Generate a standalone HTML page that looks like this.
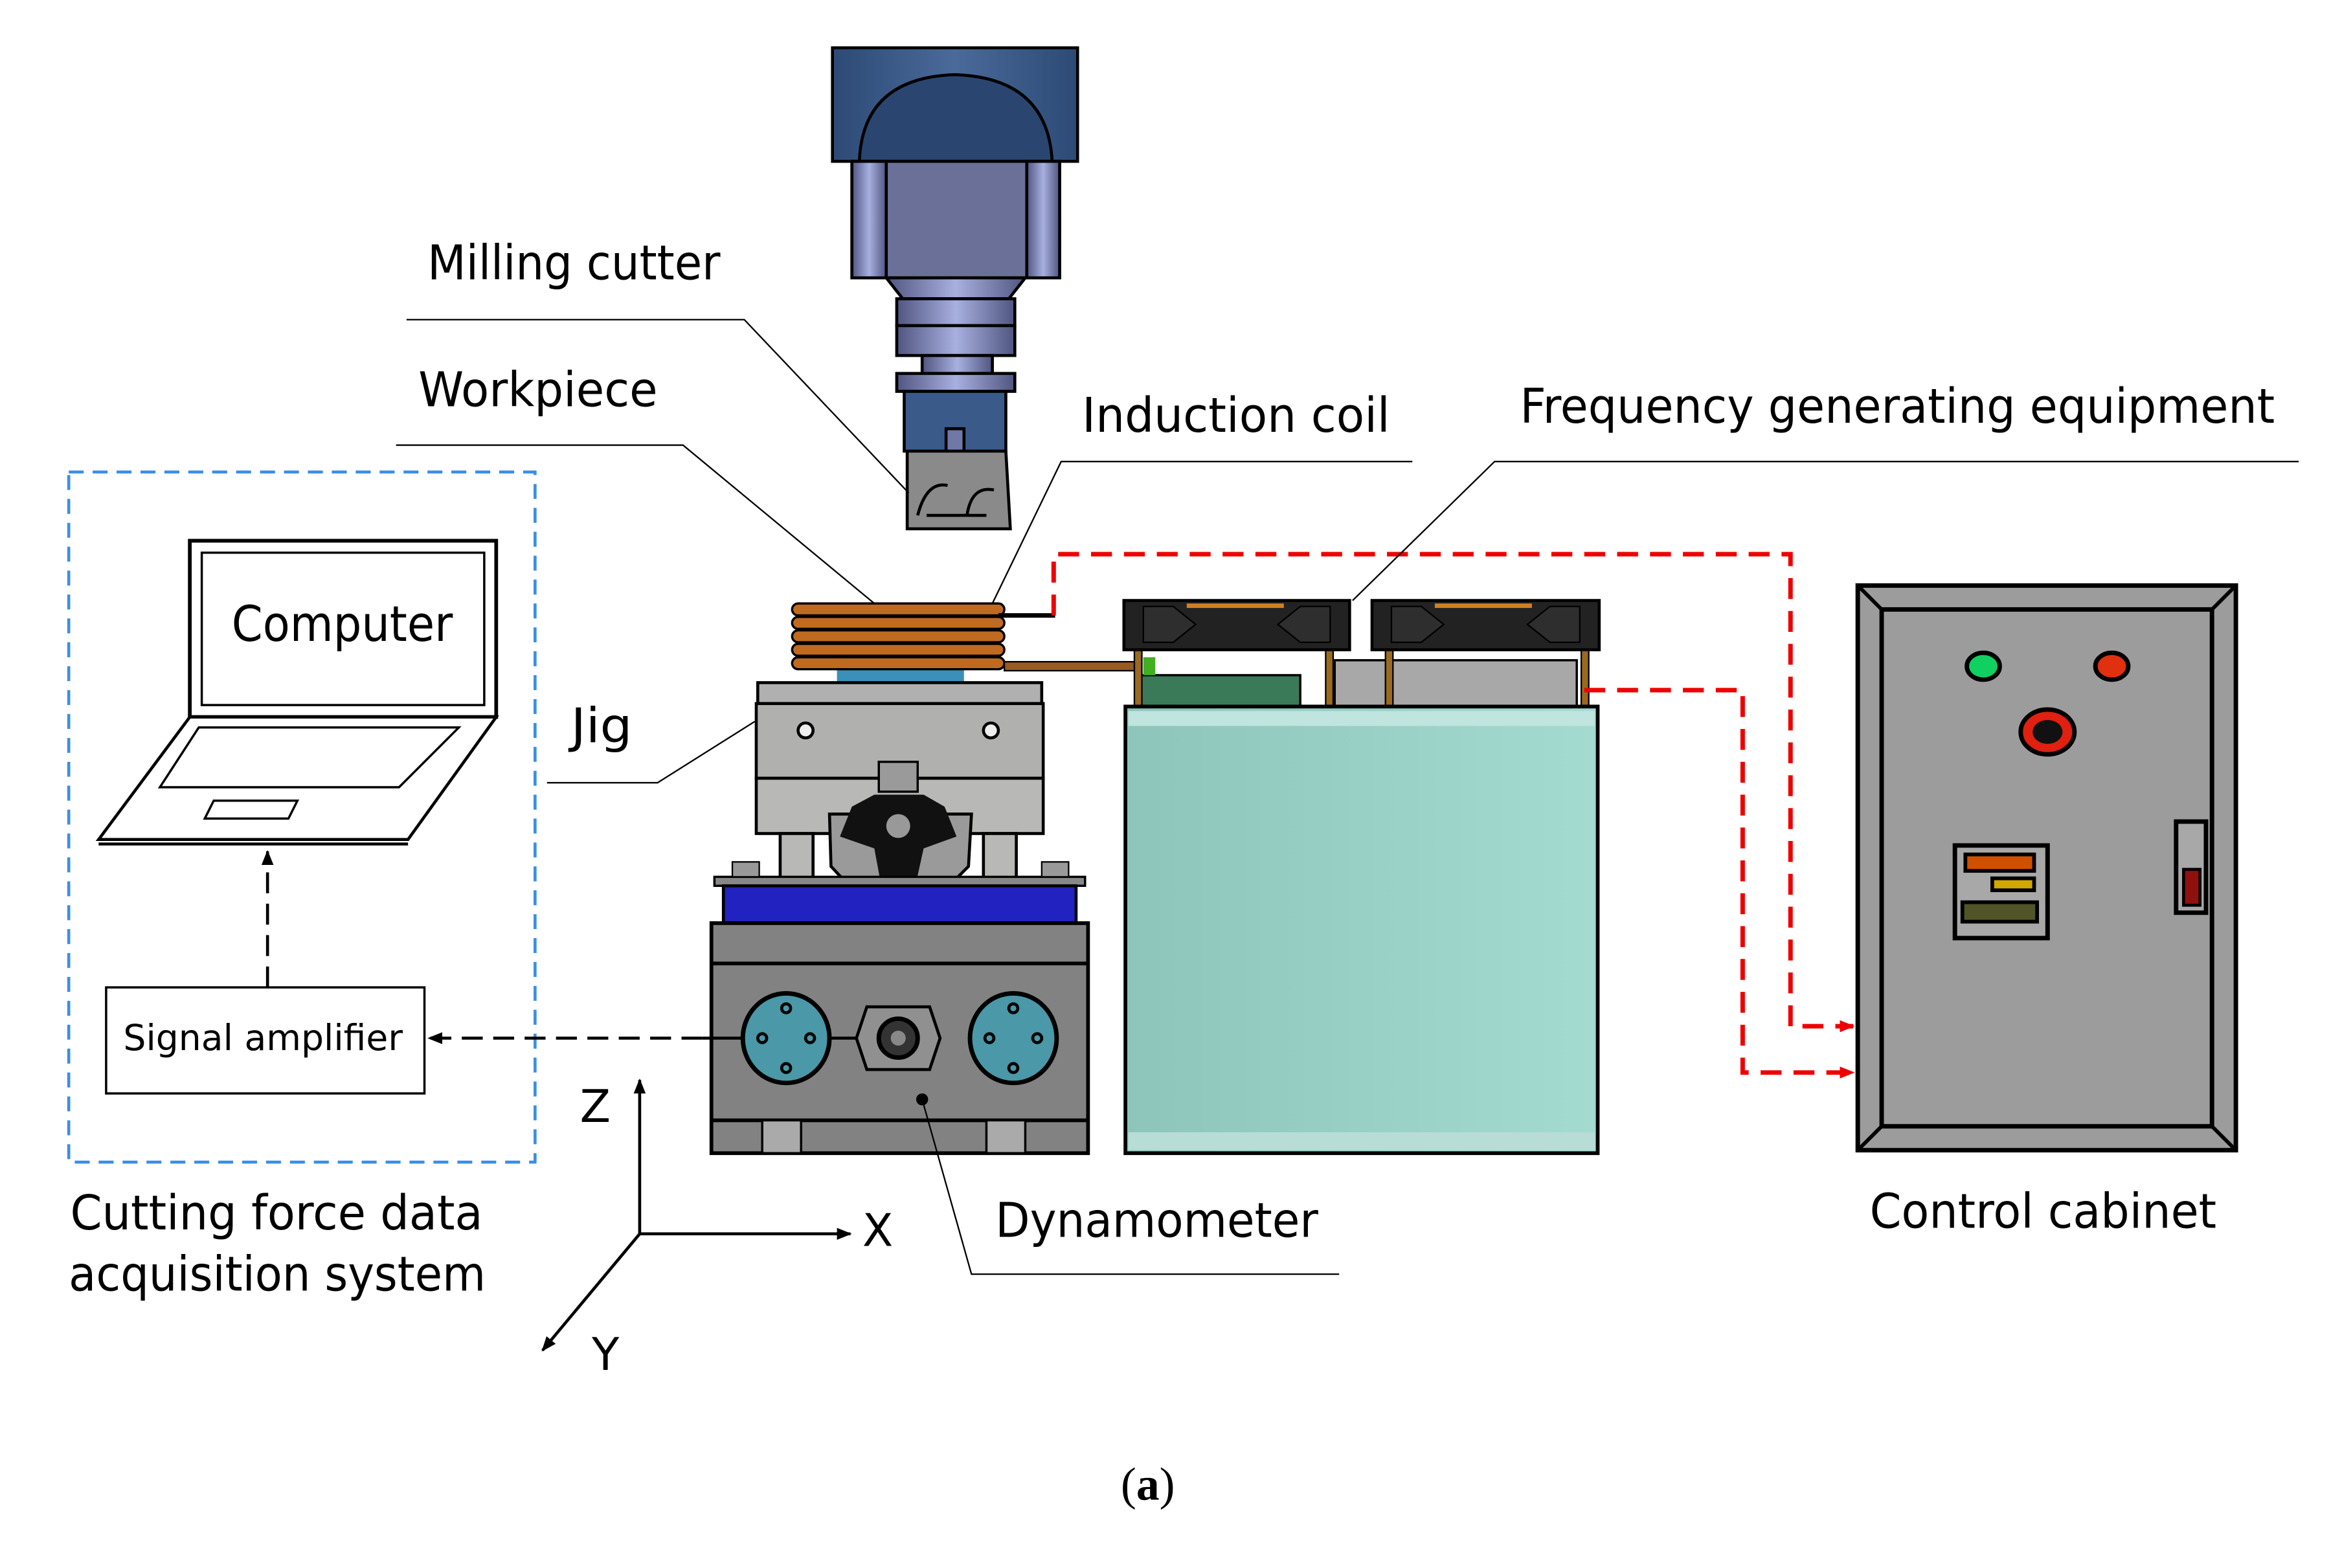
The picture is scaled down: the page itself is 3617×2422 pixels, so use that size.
<!DOCTYPE html>
<html><head><meta charset="utf-8">
<style>html,body{margin:0;padding:0;background:#fff;}svg{display:block;}</style>
</head><body>
<svg width="3617" height="2422" viewBox="0 0 1567 1049.7" preserveAspectRatio="none" xmlns="http://www.w3.org/2000/svg" font-family="'DejaVu Sans','Liberation Sans',sans-serif">
<defs>
<linearGradient id="sp" x1="0" x2="1"><stop offset="0" stop-color="#2d4a75"/><stop offset="0.5" stop-color="#4a6a9a"/><stop offset="1" stop-color="#2d4a75"/></linearGradient>
<linearGradient id="rg" x1="0" x2="1"><stop offset="0" stop-color="#505580"/><stop offset="0.5" stop-color="#a8b0e0"/><stop offset="1" stop-color="#505580"/></linearGradient>
<linearGradient id="tl" x1="0" x2="1"><stop offset="0" stop-color="#8dc5bb"/><stop offset="1" stop-color="#a4dbd1"/></linearGradient>
<marker id="ab" markerWidth="10" markerHeight="8" refX="9" refY="4" orient="auto" markerUnits="userSpaceOnUse"><path d="M0,0 L10,4 L0,8 Z" fill="#000"/></marker>
<marker id="ar" markerWidth="10" markerHeight="8" refX="9" refY="4" orient="auto" markerUnits="userSpaceOnUse"><path d="M0,0 L10,4 L0,8 Z" fill="#e00"/></marker>
</defs>

<rect x="557" y="32" width="164" height="76" fill="url(#sp)" stroke="#000" stroke-width="2"/>
<path d="M575,108 Q577,52 639,50 Q701,52 704,108 Z" fill="#2a4670" stroke="#000" stroke-width="2"/>
<rect x="570" y="108" width="139" height="78" fill="#6b7098" stroke="#000" stroke-width="2"/>
<rect x="570" y="108" width="23" height="78" fill="url(#rg)" stroke="#000" stroke-width="2"/>
<rect x="687" y="108" width="22" height="78" fill="url(#rg)" stroke="#000" stroke-width="2"/>
<path d="M593,186 L686,186 L675,200 L604,200 Z" fill="url(#rg)" stroke="#000" stroke-width="2"/>
<rect x="600" y="200" width="79" height="18" fill="url(#rg)" stroke="#000" stroke-width="2"/>
<rect x="600" y="218" width="79" height="20" fill="url(#rg)" stroke="#000" stroke-width="2"/>
<rect x="617" y="238" width="47" height="12" fill="url(#rg)" stroke="#000" stroke-width="2"/>
<rect x="600" y="250" width="79" height="12" fill="url(#rg)" stroke="#000" stroke-width="2"/>
<rect x="605" y="262" width="68" height="40" fill="#3a5a8a" stroke="#000" stroke-width="2"/>
<rect x="633" y="287" width="12" height="22" fill="#7078a8" stroke="#000" stroke-width="2"/>
<path d="M607,302 L673,302 L676,354 L607,354 Z" fill="#8a8a8a" stroke="#000" stroke-width="2"/>
<path d="M614,345 Q620,322 634,325 M647,345 Q650,325 665,328 M620,345 L660,345" stroke="#000" stroke-width="2" fill="none"/>

<rect x="560" y="448" width="85" height="9" fill="#3a90b8"/>
<g stroke="#000" stroke-width="1.5" fill="#c06a20">
<rect x="530" y="404" width="142" height="8" rx="4"/>
<rect x="530" y="413" width="142" height="8" rx="4"/>
<rect x="530" y="422" width="142" height="8" rx="4"/>
<rect x="530" y="431" width="142" height="8" rx="4"/>
<rect x="530" y="440" width="142" height="8" rx="4"/>
</g>
<line x1="668" y1="412" x2="706" y2="412" stroke="#000" stroke-width="3"/>
<rect x="672" y="443" width="88" height="6" fill="#9a5a20" stroke="#000" stroke-width="1"/>

<rect x="507" y="457" width="190" height="14" fill="#b0b0b0" stroke="#000" stroke-width="2"/>
<rect x="506" y="471" width="192" height="50" fill="#b0b0ae" stroke="#000" stroke-width="2"/>
<circle cx="539" cy="489" r="5" fill="#eee" stroke="#000" stroke-width="2"/>
<circle cx="663" cy="489" r="5" fill="#eee" stroke="#000" stroke-width="2"/>
<rect x="506" y="521" width="192" height="37" fill="#b8b8b6" stroke="#000" stroke-width="2"/>
<rect x="522" y="558" width="22" height="35" fill="#b8b8b6" stroke="#000" stroke-width="2"/>
<rect x="658" y="558" width="22" height="35" fill="#b8b8b6" stroke="#000" stroke-width="2"/>
<path d="M555,545 L650,545 L648,580 L633,595 L570,595 L556,580 Z" fill="#9a9a9a" stroke="#000" stroke-width="2"/>
<path d="M570,540 L585,532 L618,532 L632,540 L640,560 L618,568 L612,595 L590,595 L585,568 L562,560 Z" fill="#111"/>
<circle cx="601" cy="553" r="8" fill="#999"/>
<rect x="588" y="510" width="26" height="20" fill="#9a9a9a" stroke="#000" stroke-width="1.5"/>

<rect x="478" y="587" width="248" height="6" fill="#888" stroke="#000" stroke-width="1.5"/>
<rect x="490" y="577" width="18" height="10" fill="#999" stroke="#000" stroke-width="1"/>
<rect x="697" y="577" width="18" height="10" fill="#999" stroke="#000" stroke-width="1"/>
<rect x="484" y="593" width="236" height="25" fill="#2222c0" stroke="#000" stroke-width="2"/>
<rect x="476" y="618" width="252" height="154" fill="#828282" stroke="#000" stroke-width="2.5"/>
<line x1="476" y1="645" x2="728" y2="645" stroke="#000" stroke-width="2.5"/>
<line x1="476" y1="750" x2="728" y2="750" stroke="#000" stroke-width="2.5"/>
<rect x="510" y="750" width="26" height="22" fill="#aaa" stroke="#000" stroke-width="1.5"/>
<rect x="660" y="750" width="26" height="22" fill="#aaa" stroke="#000" stroke-width="1.5"/>
<line x1="470" y1="695" x2="580" y2="695" stroke="#000" stroke-width="2"/>
<ellipse cx="526" cy="695" rx="29" ry="30" fill="#4a98a8" stroke="#000" stroke-width="3"/>
<ellipse cx="678" cy="695" rx="29" ry="30" fill="#4a98a8" stroke="#000" stroke-width="3"/>
<g fill="none" stroke="#000" stroke-width="2">
<circle cx="526" cy="675" r="3"/><circle cx="526" cy="715" r="3"/><circle cx="510" cy="695" r="3"/><circle cx="542" cy="695" r="3"/>
<circle cx="678" cy="675" r="3"/><circle cx="678" cy="715" r="3"/><circle cx="662" cy="695" r="3"/><circle cx="694" cy="695" r="3"/>
</g>
<path d="M580,674 L622,674 L629,695 L622,716 L580,716 L573,695 Z" fill="#909090" stroke="#000" stroke-width="2"/>
<circle cx="601" cy="695" r="13" fill="#333" stroke="#000" stroke-width="3"/>
<circle cx="601" cy="695" r="5" fill="#888"/>
<circle cx="617" cy="736" r="4" fill="#000"/>

<rect x="760" y="452" width="110" height="22" fill="#3a7a58" stroke="#000" stroke-width="1.5"/>
<rect x="765" y="440" width="8" height="12" fill="#40b020"/>
<rect x="893" y="442" width="162" height="32" fill="#a8a8a8" stroke="#000" stroke-width="1.5"/>
<g fill="#9a6a20" stroke="#000" stroke-width="1">
<rect x="759" y="435" width="5" height="38"/><rect x="887" y="435" width="5" height="38"/>
<rect x="927" y="435" width="5" height="38"/><rect x="1058" y="435" width="5" height="38"/>
</g>
<g stroke="#000" stroke-width="2">
<rect x="752" y="402" width="151" height="33" fill="#222"/>
<rect x="918" y="402" width="152" height="33" fill="#222"/>
</g>
<rect x="794" y="404" width="65" height="3" fill="#d08020"/>
<rect x="960" y="404" width="65" height="3" fill="#d08020"/>
<path d="M765,406 L785,406 L800,418 L785,430 L765,430 Z M890,406 L870,406 L855,418 L870,430 L890,430 Z M931,406 L951,406 L966,418 L951,430 L931,430 Z M1057,406 L1037,406 L1022,418 L1037,430 L1057,430 Z" fill="#2e2e2e" stroke="#000"/>
<rect x="753" y="473" width="316" height="299" fill="url(#tl)" stroke="#000" stroke-width="2.5"/>
<rect x="755" y="476" width="312" height="10" fill="#c0e4de"/>
<rect x="755" y="758" width="312" height="12" fill="#b8ddd6"/>

<rect x="1243" y="392" width="253" height="378" fill="#9c9c9c" stroke="#000" stroke-width="3"/>
<rect x="1259" y="408" width="221" height="346" fill="#9c9c9c" stroke="#000" stroke-width="3"/>
<g stroke="#000" stroke-width="2.5">
<line x1="1243" y1="392" x2="1259" y2="408"/><line x1="1496" y1="392" x2="1480" y2="408"/>
<line x1="1243" y1="770" x2="1259" y2="754"/><line x1="1496" y1="770" x2="1480" y2="754"/>
</g>
<ellipse cx="1327" cy="446" rx="11" ry="9" fill="#10d060" stroke="#000" stroke-width="3"/>
<ellipse cx="1413" cy="446" rx="11" ry="9" fill="#e03010" stroke="#000" stroke-width="3"/>
<ellipse cx="1370" cy="490" rx="18" ry="15" fill="#e02010" stroke="#000" stroke-width="3"/>
<ellipse cx="1370" cy="490" rx="10" ry="8" fill="#111"/>
<rect x="1308" y="566" width="62" height="62" fill="#a8a8a8" stroke="#000" stroke-width="3"/>
<rect x="1315" y="572" width="46" height="11" fill="#d05000" stroke="#000" stroke-width="2.5"/>
<rect x="1333" y="588" width="28" height="8" fill="#d0a800" stroke="#000" stroke-width="2.5"/>
<rect x="1313" y="604" width="50" height="13" fill="#505428" stroke="#000" stroke-width="2.5"/>
<rect x="1456" y="550" width="20" height="61" fill="#a8a8a8" stroke="#000" stroke-width="3"/>
<rect x="1461" y="582" width="11" height="24" fill="#901010" stroke="#000" stroke-width="2"/>

<g stroke="#e00" stroke-width="3" fill="none" stroke-dasharray="14,8">
<path d="M705,412 L705,371 L1198,371 L1198,687 L1240,687" marker-end="url(#ar)"/>
<path d="M1060,462 L1166,462 L1166,718 L1240,718" marker-end="url(#ar)"/>
</g>

<rect x="46" y="316" width="312" height="462" fill="none" stroke="#3a8ee8" stroke-width="2" stroke-dasharray="10,6"/>
<rect x="127" y="362" width="205" height="118" fill="#fff" stroke="#000" stroke-width="2.5"/>
<rect x="135" y="370" width="189" height="102" fill="#fff" stroke="#000" stroke-width="1.5"/>
<text x="229" y="429" font-size="33" text-anchor="middle" textLength="148" lengthAdjust="spacingAndGlyphs">Computer</text>
<path d="M127,480 L332,480 L273,562 L66,562 Z" fill="#fff" stroke="#000" stroke-width="2"/>
<line x1="66" y1="565" x2="273" y2="565" stroke="#000" stroke-width="2"/>
<path d="M133,487 L307,487 L267,527 L107,527 Z" fill="none" stroke="#000" stroke-width="1.5"/>
<path d="M143,536 L199,536 L193,548 L137,548 Z" fill="none" stroke="#000" stroke-width="1.5"/>
<rect x="71" y="661" width="213" height="71" fill="#fff" stroke="#000" stroke-width="1.5"/>
<text x="176" y="703" font-size="24" text-anchor="middle" textLength="187" lengthAdjust="spacingAndGlyphs">Signal amplifier</text>
<line x1="179" y1="661" x2="179" y2="570" stroke="#000" stroke-width="2" stroke-dasharray="14,7" marker-end="url(#ab)"/>
<line x1="470" y1="695" x2="287" y2="695" stroke="#000" stroke-width="2" stroke-dasharray="14,7" marker-end="url(#ab)"/>

<g stroke="#000" stroke-width="2" fill="none">
<line x1="428" y1="826" x2="428" y2="723" marker-end="url(#ab)"/>
<line x1="428" y1="826" x2="569" y2="826" marker-end="url(#ab)"/>
<line x1="428" y1="826" x2="363" y2="904" marker-end="url(#ab)"/>
</g>
<text x="388" y="751" font-size="30">Z</text>
<text x="577" y="834" font-size="30">X</text>
<text x="396" y="917" font-size="30">Y</text>

<g stroke="#000" stroke-width="1" fill="none">
<path d="M272,214 L498,214 L608,330"/>
<path d="M265,298 L457,298 L585,404"/>
<path d="M664,404 L710,309 L945,309"/>
<path d="M905,402 L1000,309 L1538,309"/>
<path d="M366,524 L440,524 L505,483"/>
<path d="M617,736 L650,853 L896,853"/>
</g>

<g font-size="32" fill="#000">
<text x="286" y="187" textLength="196" lengthAdjust="spacingAndGlyphs">Milling cutter</text>
<text x="280" y="272" textLength="160" lengthAdjust="spacingAndGlyphs">Workpiece</text>
<text x="724" y="289" textLength="206" lengthAdjust="spacingAndGlyphs">Induction coil</text>
<text x="1017" y="283" textLength="505" lengthAdjust="spacingAndGlyphs">Frequency generating equipment</text>
<text x="382" y="497" textLength="41" lengthAdjust="spacingAndGlyphs">Jig</text>
<text x="666" y="828" textLength="216" lengthAdjust="spacingAndGlyphs">Dynamometer</text>
<text x="1251" y="822" textLength="232" lengthAdjust="spacingAndGlyphs">Control cabinet</text>
<text x="47" y="823" textLength="276" lengthAdjust="spacingAndGlyphs">Cutting force data</text>
<text x="46" y="864" textLength="279" lengthAdjust="spacingAndGlyphs">acquisition system</text>
</g>
<text x="768" y="1004" font-size="31" text-anchor="middle" font-family="'Liberation Serif',serif">(<tspan font-weight="bold">a</tspan>)</text>
</svg>
</body></html>
